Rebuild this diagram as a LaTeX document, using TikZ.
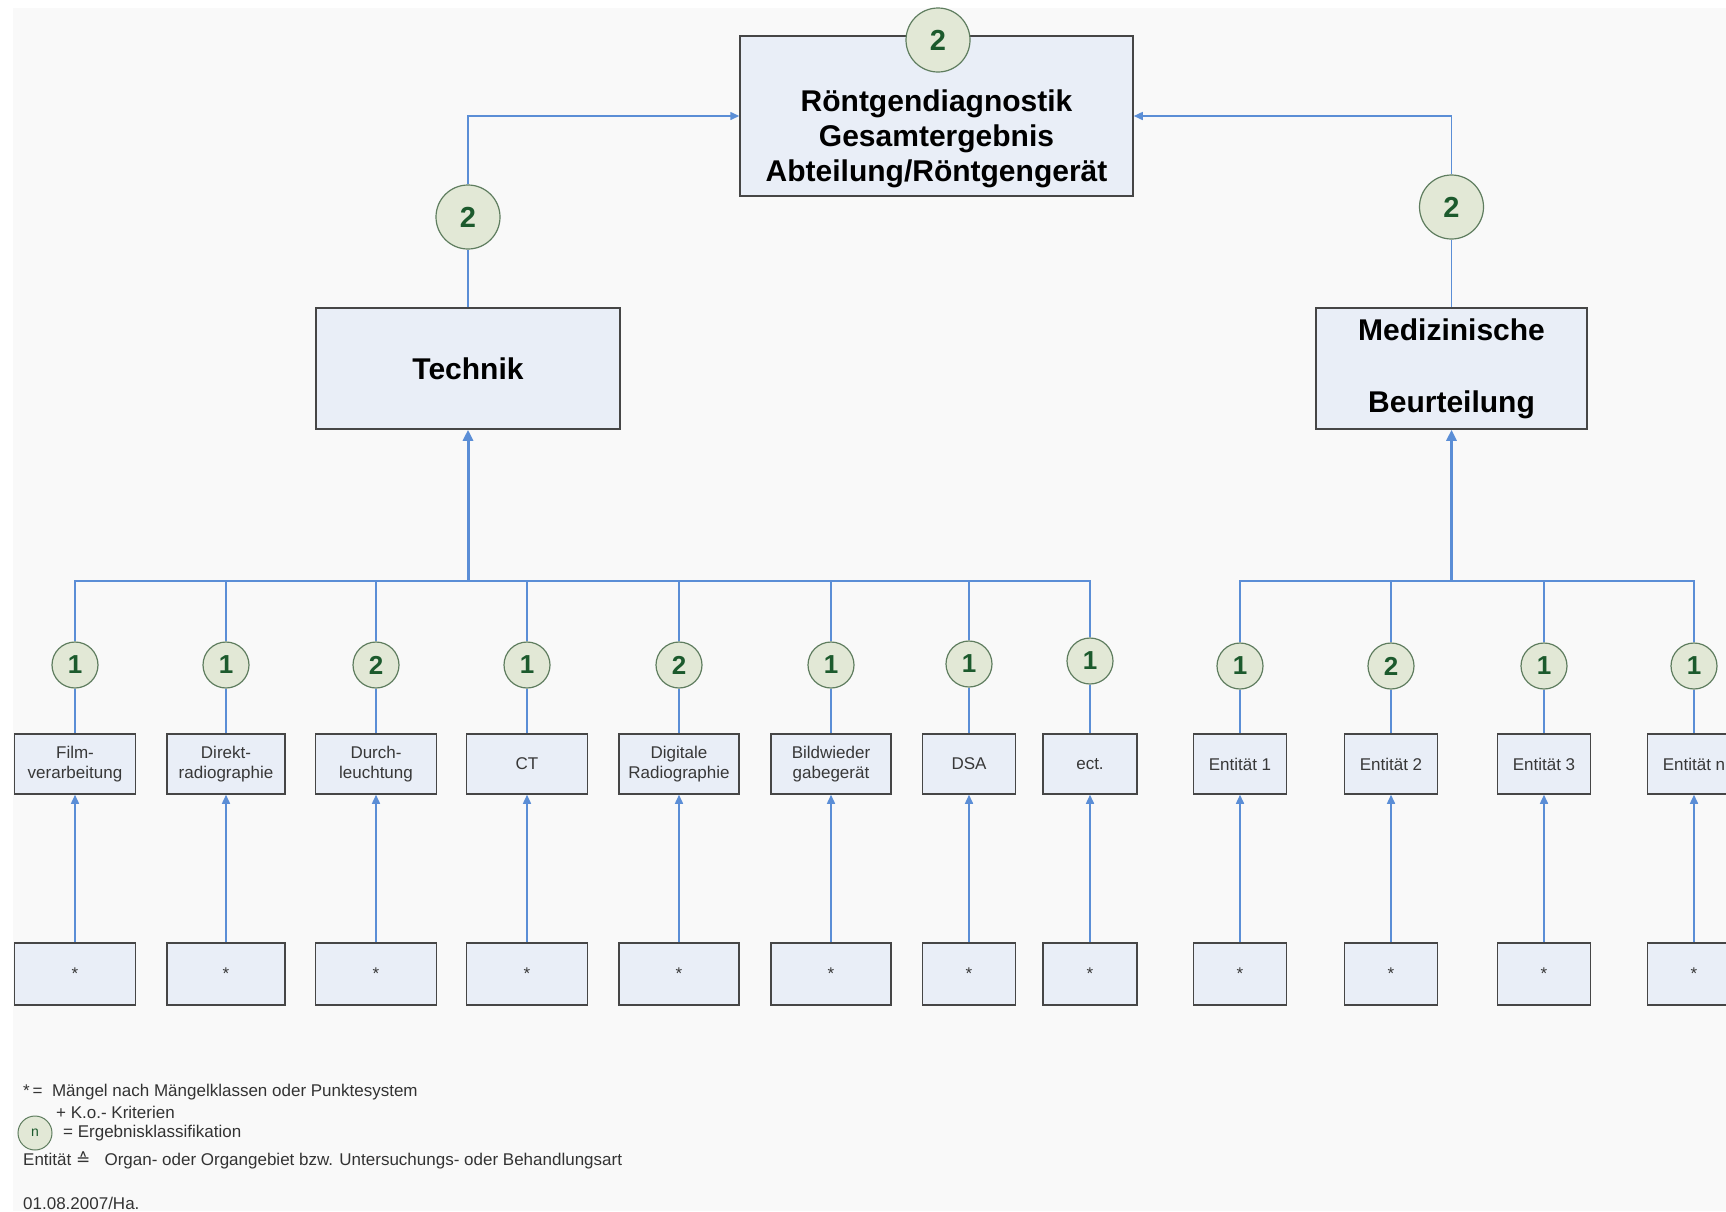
\documentclass[tikz,border=0pt]{standalone}
\usepackage{fontspec}
\setmainfont{Liberation Sans}
\newfontfamily\symfont{DejaVu Sans}
\usetikzlibrary{arrows.meta, positioning}

\definecolor{linkblue}{RGB}{91,142,214}
\definecolor{boxfill}{RGB}{233,238,247}
\definecolor{boxline}{RGB}{70,70,70}
\definecolor{ringfill}{RGB}{226,232,214}
\definecolor{ringline}{RGB}{95,125,95}
\definecolor{ringtext}{RGB}{28,90,45}
\definecolor{paper}{RGB}{249,249,249}

\tikzset{
  unitbox/.style={draw=boxline, line width=1.5pt, fill=boxfill, minimum height=60pt, inner sep=0pt, align=center, text=black!78, font=\fontsize{17}{20}\selectfont},
  headbox/.style={draw=boxline, line width=1.5pt, fill=boxfill, inner sep=0pt, align=center, text=black, font=\fontsize{30}{35}\selectfont\bfseries},
  rating/.style={circle, draw=ringline, line width=1.2pt, fill=ringfill, minimum size=46pt, inner sep=0pt, text=ringtext, font=\fontsize{26}{26}\selectfont\bfseries},
  bigrating/.style={rating, minimum size=64pt, font=\fontsize{29}{29}\selectfont\bfseries},
  link/.style={draw=linkblue, line width=1.5pt},
  feed/.style={link, -{Triangle[length=9pt,width=8pt]}},
  mainfeed/.style={draw=linkblue, line width=3pt, -{Triangle[length=11pt,width=10pt]}},
  legend/.style={anchor=west, inner sep=1pt, text=black!80, font=\fontsize{17}{19}\selectfont},
}

\begin{document}
\begin{tikzpicture}[x=1pt, y=-1pt]
  \useasboundingbox (0,0) rectangle (1726,1211);
  \fill[white] (0,0) rectangle (1726,1211);
  \fill[paper] (13,8) rectangle (1726,1211);

  % upper levels
  \node[headbox, minimum width=393pt, minimum height=160pt] (top) at (936.5,116) {\rule{0pt}{67pt}Röntgendiagnostik\\Gesamtergebnis\\Abteilung/Röntgengerät};
  \node[bigrating] (ctop) at (938,40) {2};
  \node[headbox, minimum width=304pt, minimum height=121pt] (technik) at (468,368.5) {Technik};
  \node[headbox, minimum width=271pt, minimum height=121pt, font=\fontsize{30}{36}\selectfont\bfseries] (med) at (1451.5,368.5) {Medizinische\\[36pt]Beurteilung};
  \node[bigrating] (ctech) at (468,217) {2};
  \node[bigrating] (cmed) at (1451.5,207) {2};

  \draw[link] (technik) -- (ctech);
  \draw[feed] (ctech) |- (top);
  \draw[link] (med) -- (cmed);
  \draw[feed] (cmed) |- (top);

  \coordinate (busT) at (468,581);
  \coordinate (busM) at (1451.5,581);
  \draw[mainfeed] (busT) -- (technik);
  \draw[mainfeed] (busM) -- (med);

  % Technik
  \foreach \x/\y/\id/\lbl/\n/\w in {75/665/film/{Film-\\verarbeitung}/1/121, 226/665/direkt/{Direkt-\\radiographie}/1/118,
      376/665/durch/{Durch-\\leuchtung}/2/121, 527/665/ct/CT/1/121, 679/665/digital/{Digitale\\Radiographie}/2/120,
      831/665/bild/{Bildwieder\\gabegerät}/1/120, 969/664/dsa/DSA/1/93, 1090/661/ect/ect./1/94}{
    \node[rating] (c\id) at (\x,\y) {\n};
    \node[unitbox, minimum width=\w pt] (b\id) at (\x,764) {\lbl};
    \node[unitbox, minimum width=\w pt, minimum height=62pt] (s\id) at (\x,974) {*};
    \draw[link] (busT) -| (c\id);
    \draw[link] (c\id) -- (b\id);
    \draw[feed] (s\id) -- (b\id);
  }

  % Medizinische Beurteilung
  \foreach \x/\id/\lbl/\n in {1240/ent1/Entität 1/1, 1391/ent2/Entität 2/2, 1544/ent3/Entität 3/1, 1694/entn/Entität n/1}{
    \node[rating] (c\id) at (\x,666) {\n};
    \node[unitbox, minimum width=93pt] (b\id) at (\x,764) {\lbl};
    \node[unitbox, minimum width=93pt, minimum height=62pt] (s\id) at (\x,974) {*};
    \draw[link] (busM) -| (c\id);
    \draw[link] (c\id) -- (b\id);
    \draw[feed] (s\id) -- (b\id);
  }

  % legend
  \node[legend] (lg1) at (22,1092) {*\,=\ \ Mängel nach Mängelklassen oder Punktesystem};
  \node[legend] (lg2) at (55,1112) {+ K.o.- Kriterien};
  \node[rating, minimum size=34pt, line width=1pt, font=\fontsize{14}{14}\selectfont] (lgc) at (35,1133) {n};
  \node[legend] (lg3) at (62,1133) {= Ergebnisklassifikation};
  \node[legend] (lg4) at (22,1160) {Entität {\symfont ≙}\ \ \ Organ- oder Organgebiet bzw. Untersuchungs- oder Behandlungsart};
  \node[legend] (lg5) at (22,1203) {01.08.2007/Ha.};
\end{tikzpicture}
\end{document}
